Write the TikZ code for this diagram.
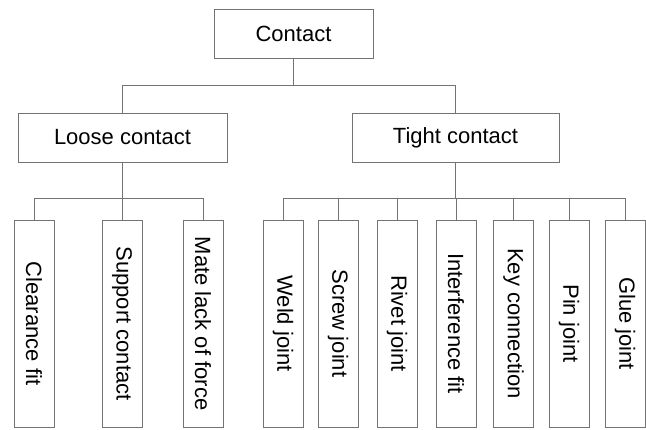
\documentclass[tikz,border=0pt]{standalone}
\usepackage{fontspec}
\setmainfont{Liberation Sans}
\begin{document}
\begin{tikzpicture}[x=1pt,y=1pt,
  every node/.style={font=\fontsize{22}{26}\selectfont, text=black},
  wide/.style={draw=linegray, line width=0.9pt, minimum height=49pt, inner sep=0pt},
  tall/.style={draw=linegray, line width=0.9pt, minimum width=40pt, minimum height=207pt, inner sep=0pt},
  label/.style={rotate=-90},
  link/.style={draw=linegray, line width=0.9pt}]
\definecolor{linegray}{gray}{0.45}
\useasboundingbox (0,0) rectangle (646,429);

% top level
\node[wide, minimum width=159pt] (contact) at (293.5,395) {Contact};

% second level
\node[wide, minimum width=209pt] (loose) at (122.5,291.5) {Loose contact};
\node[wide, minimum width=207pt] (tight) at (455.5,291.5) {Tight contact};

% loose contact kinds
\node[tall] (clear) at (34,105.5) {};
\node[label] at (clear.center) {Clearance fit};
\node[tall] (support) at (122,105.5) {};
\node[label] at (support.center) {Support contact};
\node[tall] (mate) at (203,105.5) {};
\node[label] at (mate.center) {Mate lack of force};

% tight contact kinds
\node[tall] (weld) at (283,105.5) {};
\node[label] at (weld.center) {Weld joint};
\node[tall] (screw) at (338,105.5) {};
\node[label] at (screw.center) {Screw joint};
\node[tall] (rivet) at (397,105.5) {};
\node[label] at (rivet.center) {Rivet joint};
\node[tall] (interf) at (456,105.5) {};
\node[label] at (interf.center) {Interference fit};
\node[tall] (key) at (513.5,105.5) {};
\node[label] at (key.center) {Key connection};
\node[tall] (pin) at (569,105.5) {};
\node[label] at (pin.center) {Pin joint};
\node[tall] (glue) at (625,105.5) {};
\node[label] at (glue.center) {Glue joint};

% connectors
\foreach \n in {loose,tight}
  \draw[link] (contact.south) -- ++(0,-26.5) -| (\n.north);
\foreach \n in {clear,support,mate}
  \draw[link] (loose.south) -- ++(0,-36) -| (\n.north);
\foreach \n in {weld,screw,rivet,interf,key,pin,glue}
  \draw[link] (tight.south) -- ++(0,-36) -| (\n.north);
\end{tikzpicture}
\end{document}
